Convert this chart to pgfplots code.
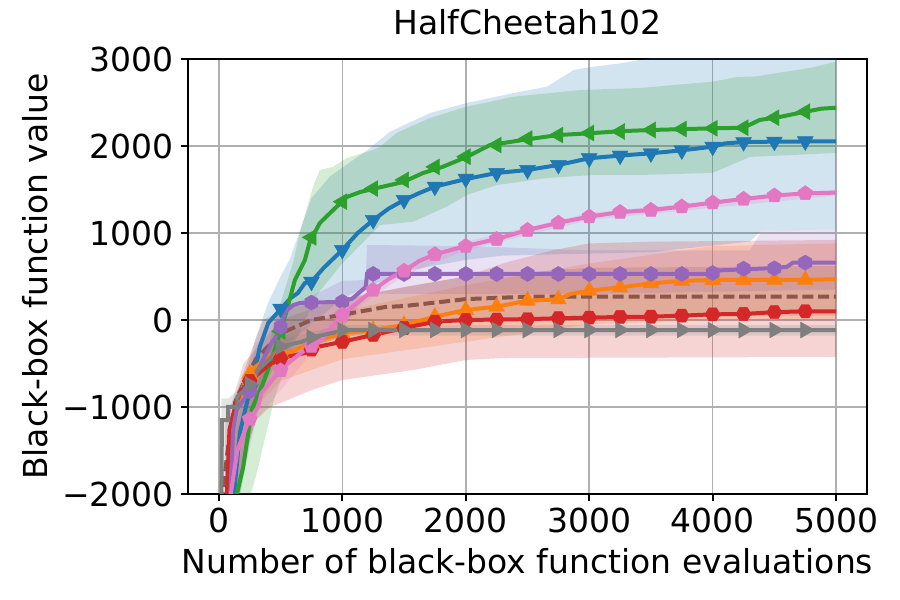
\documentclass[border=0pt]{standalone}
\usepackage{fontspec}
\setmainfont{DejaVu Sans}
\usepackage{pgfplots}
\usepackage{pgfplotstable}
\pgfplotsset{compat=1.18}
\usetikzlibrary{plotmarks}

\definecolor{tabblue}{HTML}{1F77B4}
\definecolor{taborange}{HTML}{FF7F0E}
\definecolor{tabgreen}{HTML}{2CA02C}
\definecolor{tabred}{HTML}{D62728}
\definecolor{tabpurple}{HTML}{9467BD}
\definecolor{tabbrown}{HTML}{8C564B}
\definecolor{tabpink}{HTML}{E377C2}
\definecolor{tabgray}{HTML}{7F7F7F}

\pgfdeclareplotmark{hexa}{%
  \pgfpathmoveto{\pgfpointpolar{90}{\pgfplotmarksize}}%
  \pgfpathlineto{\pgfpointpolar{150}{\pgfplotmarksize}}%
  \pgfpathlineto{\pgfpointpolar{210}{\pgfplotmarksize}}%
  \pgfpathlineto{\pgfpointpolar{270}{\pgfplotmarksize}}%
  \pgfpathlineto{\pgfpointpolar{330}{\pgfplotmarksize}}%
  \pgfpathlineto{\pgfpointpolar{30}{\pgfplotmarksize}}%
  \pgfpathclose\pgfusepathqfillstroke}
\pgfdeclareplotmark{hexb}{%
  \pgfpathmoveto{\pgfpointpolar{0}{\pgfplotmarksize}}%
  \pgfpathlineto{\pgfpointpolar{60}{\pgfplotmarksize}}%
  \pgfpathlineto{\pgfpointpolar{120}{\pgfplotmarksize}}%
  \pgfpathlineto{\pgfpointpolar{180}{\pgfplotmarksize}}%
  \pgfpathlineto{\pgfpointpolar{240}{\pgfplotmarksize}}%
  \pgfpathlineto{\pgfpointpolar{300}{\pgfplotmarksize}}%
  \pgfpathclose\pgfusepathqfillstroke}

% ---------------- lines ----------------
\pgfplotstableread{
x y
130 -2100
197 -1690
265 -1035
359 -724
427 -460
494 -150
548 100
616 460
697 690
737 900
818 1115
926 1264
1037 1414
1145 1471
1280 1517
1493 1586
1655 1690
1810 1759
2007 1874
2196 2011
2500 2077
2750 2126
3000 2146
3250 2170
3500 2184
4000 2203
4250 2210
4380 2299
4540 2333
4750 2394
4880 2429
5000 2440
}\greenline
\pgfplotstableread{
x y
500 -130
750 950
1000 1360
1250 1510
1500 1610
1750 1760
2000 1877
2250 2011
2500 2085
2750 2126
3000 2149
3250 2166
3500 2184
3750 2195
4000 2203
4250 2210
4500 2325
4750 2394
}\greenmark

\pgfplotstableread{
x y
116 -2100
170 -1300
251 -805
292 -575
332 -307
400 -35
494 115
580 250
640 310
697 425
750 440
850 600
1000 805
1125 1000
1250 1149
1375 1280
1500 1379
1625 1460
1750 1533
2000 1620
2250 1690
2500 1724
2750 1782
3000 1859
3250 1890
3500 1916
3750 1950
4000 1992
4100 2030
4250 2045
4500 2050
5000 2054
}\blueline
\pgfplotstableread{
x y
250 -805
500 130
750 440
1000 805
1250 1149
1500 1379
1750 1533
2000 1625
2250 1690
2500 1724
2750 1782
3000 1859
3250 1890
3500 1916
3750 1950
4000 1992
4250 2045
4500 2050
4750 2054
}\bluemark

\pgfplotstableread{
x y
86 -2100
150 -1500
243 -1150
319 -997
346 -839
454 -652
562 -494
697 -345
832 -230
1000 60
1125 200
1250 345
1375 470
1500 565
1625 680
1750 755
2000 850
2250 930
2500 1034
2750 1117
3000 1188
3250 1240
3500 1264
3750 1303
4000 1349
4250 1391
4500 1430
4750 1456
5000 1464
}\pinkline
\pgfplotstableread{
x y
250 -1140
500 -580
750 -300
1000 60
1250 345
1500 565
1750 755
2000 850
2250 930
2500 1034
2750 1117
3000 1188
3250 1240
3500 1264
3750 1303
4000 1349
4250 1391
4500 1430
4750 1456
}\pinkmark

\pgfplotstableread{
x y
90 -2100
116 -1260
143 -1035
237 -839
305 -610
413 -300
480 -150
540 100
600 170
656 195
1000 210
1080 245
1190 380
1200 529
4000 529
4050 570
4450 594
4600 610
4650 659
5000 659
}\purpleline
\pgfplotstableread{
x y
250 -820
500 -80
750 200
1000 210
1250 529
1500 529
1750 529
2000 529
2250 529
2500 529
2750 529
3000 529
3250 529
3500 529
3750 529
4000 540
4250 590
4500 594
4750 659
}\purplemark

\pgfplotstableread{
x y
70 -2100
110 -1260
157 -954
200 -750
280 -560
400 -420
500 -380
590 -365
750 -264
1000 -150
1250 -115
1500 -57
1750 38
2000 115
2250 153
2500 222
2750 237
2850 300
3000 337
3250 375
3500 421
3750 450
4000 460
4750 462
5000 468
}\orangeline
\pgfplotstableread{
x y
250 -620
500 -380
750 -264
1000 -150
1250 -115
1500 -57
1750 38
2000 115
2250 153
2500 222
2750 237
3000 337
3250 375
3500 421
3750 450
4000 460
4250 460
4500 462
4750 462
}\orangemark

\pgfplotstableread{
x y
62 -2100
86 -1260
140 -950
184 -805
292 -652
400 -520
508 -437
697 -380
805 -307
1000 -250
1250 -172
1500 -92
1750 -19
2000 0
2500 10
2750 20
3000 27
3250 35
3500 38
3750 50
4000 65
4250 69
4500 90
4750 100
5000 100
}\redline
\pgfplotstableread{
x y
250 -700
500 -440
750 -340
1000 -250
1250 -172
1500 -92
1750 -19
2000 0
2250 5
2500 10
2750 20
3000 27
3250 35
3500 38
3750 50
4000 65
4250 69
4500 90
4750 100
}\redmark

\pgfplotstableread{
x y
20 -2100
25 -1150
75 -1150
75 -1000
150 -1000
150 -880
237 -766
300 -600
427 -422
500 -307
670 -250
778 -192
950 -140
1000 -115
5000 -115
}\grayline
\pgfplotstableread{
x y
250 -740
500 -307
750 -200
1000 -115
1250 -115
1500 -115
1750 -115
2000 -115
2250 -115
2500 -115
2750 -115
3000 -115
3250 -115
3500 -115
3750 -115
4000 -115
4250 -115
4500 -115
4750 -115
}\graymark

\pgfplotstableread{
x y
20 -2100
80 -1400
130 -950
211 -690
300 -450
427 -264
508 -150
751 0
1000 60
1350 150
1500 160
2000 240
2500 268
5000 268
}\brownline

% ---------------- bands: upper edge left to right, then lower edge right to left ----------------
\pgfplotstableread{
x y
100 -1500
200 -700
300 -200
400 200
500 500
575 700
650 1000
750 1400
900 1650
1000 1750
1200 1950
1386 2164
1710 2379
2008 2494
2387 2609
2658 2682
2874 2874
3036 2912
3252 2950
3500 3010
5000 3020
5000 1040
4400 1030
4300 900
3500 780
2300 740
2000 690
1500 560
1000 250
750 -50
500 -350
400 -600
250 -1400
100 -2600
}\blueband

\pgfplotstableread{
x y
130 -1800
200 -1400
300 -800
400 -300
500 200
600 650
656 1000
762 1529
818 1724
924 1759
1037 1862
1250 1954
1305 1992
1440 2149
1710 2322
2008 2452
2387 2567
2928 2644
3414 2667
4000 2740
4200 2793
4350 2800
4800 2900
5000 2970
5000 1920
4300 1874
4000 1690
3414 1667
3036 1667
2658 1632
2253 1552
2008 1437
1845 1302
1575 1130
1305 1092
1000 650
800 300
600 -300
450 -900
300 -1800
130 -2600
}\greenband

\pgfplotstableread{
x y
90 -1500
300 -300
500 100
1000 450
1190 460
1200 862
2000 850
3000 800
4300 800
4400 1030
5000 1040
5000 350
3000 300
1200 300
1000 -100
500 -500
300 -1000
90 -2500
}\purpleband

\pgfplotstableread{
x y
60 -1500
150 -800
250 -400
359 0
575 149
1000 230
1500 380
2000 500
2300 650
2700 800
3000 880
3500 900
5000 920
5000 -425
2300 -437
2000 -460
1574 -575
1000 -690
750 -805
500 -954
413 -1000
300 -1150
200 -1600
60 -2600
}\redband

\pgfplotstableread{
x y
100 -1500
300 -500
500 -200
1000 100
1500 250
2000 400
3000 650
4000 850
5000 880
5000 0
4000 0
3000 -50
2000 -250
1000 -450
500 -700
300 -1000
100 -2500
}\orangeband

\pgfplotstableread{
x y
50 -1200
200 -500
500 0
1000 250
2000 500
3000 600
5000 620
5000 50
3000 50
2000 0
1000 -200
500 -400
200 -1200
50 -2500
}\brownband

\pgfplotstableread{
x y
20 -900
75 -900
200 -750
400 -250
1000 -60
5000 -60
5000 -180
1000 -180
400 -550
200 -1200
75 -1400
20 -2500
}\grayband

\pgfplotstableread{
x y
86 -1700
300 -800
750 -220
1000 100
1500 620
2000 900
3000 1230
5000 1500
5000 1430
3000 1150
2000 800
1500 510
1000 20
750 -380
300 -1150
86 -2500
}\pinkband

\newcommand{\tfont}{\fontsize{16.5bp}{19.8bp}\selectfont}

\begin{document}
\begin{tikzpicture}
\path[use as bounding box] (-94bp,-53bp) rectangle (356bp,247bp);
\begin{axis}[
  at={(0,0)}, anchor=south west,
  scale only axis, width=339.5bp, height=217.5bp,
  xmin=-250, xmax=5250, ymin=-2000, ymax=3000,
  xtick={0,1000,2000,3000,4000,5000},
  xticklabels={0,1000,2000,3000,4000,5000},
  ytick={-2000,-1000,0,1000,2000,3000},
  yticklabels={−2000,−1000,0,1000,2000,3000},
  grid=major,
  grid style={color=black!31, line width=0.8bp},
  axis line style={line width=0.9bp},
  tick align=outside, tick pos=left,
  major tick length=3.6bp,
  tick style={black, line width=0.9bp},
  ticklabel style={font=\tfont},
  title={HalfCheetah102},
  title style={font=\tfont, at={(axis description cs:0.5,1.0287)}, anchor=base},
  xlabel={Number of black-box function evaluations},
  xlabel style={font=\tfont, at={(axis description cs:0.5,-0.1825)}, anchor=base},
  ylabel={Black-box function value},
  ylabel style={font=\tfont, at={(axis description cs:-0.2062,0.5)}, anchor=base},
]
% bands
\addplot[fill=tabblue, fill opacity=0.2, draw=none, forget plot] table {\blueband};
\addplot[fill=taborange, fill opacity=0.2, draw=none, forget plot] table {\orangeband};
\addplot[fill=tabgreen, fill opacity=0.2, draw=none, forget plot] table {\greenband};
\addplot[fill=tabred, fill opacity=0.2, draw=none, forget plot] table {\redband};
\addplot[fill=tabpurple, fill opacity=0.2, draw=none, forget plot] table {\purpleband};
\addplot[fill=tabbrown, fill opacity=0.2, draw=none, forget plot] table {\brownband};
\addplot[fill=tabpink, fill opacity=0.2, draw=none, forget plot] table {\pinkband};
\addplot[fill=tabgray, fill opacity=0.2, draw=none, forget plot] table {\grayband};
% lines
\addplot[tabbrown, line width=2bp, dash pattern=on 5.5bp off 2.4bp, no marks] table {\brownline};
\addplot[tabblue, line width=2bp, no marks] table {\blueline};
\addplot[only marks, mark=triangle*, mark size=4.6bp, mark options={rotate=180, fill=tabblue, draw=tabblue, line width=0.2bp}] table {\bluemark};
\addplot[taborange, line width=2bp, no marks] table {\orangeline};
\addplot[only marks, mark=triangle*, mark size=4.6bp, mark options={fill=taborange, draw=taborange, line width=0.2bp}] table {\orangemark};
\addplot[tabgreen, line width=2bp, no marks] table {\greenline};
\addplot[only marks, mark=triangle*, mark size=4.6bp, mark options={rotate=90, fill=tabgreen, draw=tabgreen, line width=0.2bp}] table {\greenmark};
\addplot[tabred, line width=2bp, no marks] table {\redline};
\addplot[only marks, mark=hexb, mark size=3.8bp, mark options={fill=tabred, draw=tabred, line width=0.2bp}] table {\redmark};
\addplot[tabpurple, line width=2bp, no marks] table {\purpleline};
\addplot[only marks, mark=hexa, mark size=3.8bp, mark options={fill=tabpurple, draw=tabpurple, line width=0.2bp}] table {\purplemark};
\addplot[tabpink, line width=2bp, no marks] table {\pinkline};
\addplot[only marks, mark=pentagon*, mark size=3.9bp, mark options={fill=tabpink, draw=tabpink, line width=0.2bp}] table {\pinkmark};
\addplot[tabgray, line width=2bp, no marks] table {\grayline};
\addplot[only marks, mark=triangle*, mark size=4.6bp, mark options={rotate=-90, fill=tabgray, draw=tabgray, line width=0.2bp}] table {\graymark};
\end{axis}
\end{tikzpicture}
\end{document}
